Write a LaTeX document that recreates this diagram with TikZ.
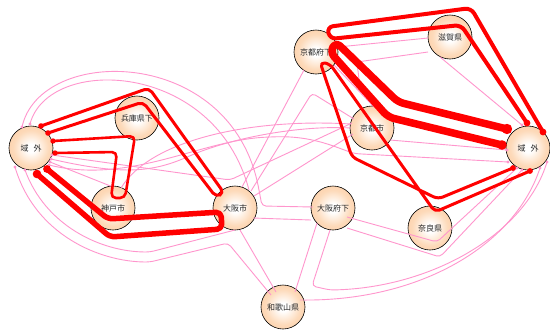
\documentclass[tikz,border=0pt]{standalone}
\usepackage{fontspec}
\newfontfamily\jp{Noto Sans CJK JP}
\usetikzlibrary{calc}
\definecolor{peachlight}{RGB}{253,218,186}
\definecolor{peachmid}{RGB}{251,198,152}
\definecolor{peachrim}{RGB}{246,176,122}
\definecolor{flowpink}{RGB}{255,150,205}
\pgfdeclareradialshading{areaball}{\pgfpoint{0bp}{0bp}}{%
  color(0bp)=(white); color(5bp)=(white); color(20bp)=(peachlight); color(38bp)=(peachmid); color(50bp)=(peachrim)}
\begin{document}
\begin{tikzpicture}[x=1pt,y=-1pt,
  area/.style={circle,draw=black,line width=0.6pt,minimum size=44pt,inner sep=0pt,
    shading=areaball,text=black!85,font=\jp\fontsize{8}{9}\selectfont},
  minor/.style={draw=flowpink,line width=0.9pt,rounded corners=4pt},
  major/.style={draw=red,rounded corners=5pt,line join=round},
  enddot/.style={fill=red},
  pinkdot/.style={fill=flowpink}]
\fill[white] (0,0) rectangle (550,330);
\useasboundingbox (0,0) rectangle (550,330);

% areas
\node[area] (outL) at (31,148) {域\hspace{5pt}外};
\node[area] (hyogo) at (137,118) {兵庫県下};
\node[area] (kobe) at (113,208) {神戸市};
\node[area] (osakaC) at (235,208) {大阪市};
\node[area] (osakaF) at (333,208) {大阪府下};
\node[area] (wakayama) at (283,307) {和歌山県};
\node[area] (kyotoF) at (316,52) {京都府下};
\node[area] (shiga) at (450,37) {滋賀県};
\node[area] (kyotoC) at (372,128) {京都市};
\node[area] (outR) at (528,148) {域\hspace{5pt}外};
\node[area] (nara) at (430,228) {奈良県};

% minor flows, west side
\draw[minor] ($(outL)+(-9,-21)$) .. controls (40,45) and (230,45) .. (259,190) -- (262,206) -- ($(osakaF)+(-20,-1)$);
\draw[minor] ($(outL)+(-1,-24)$) .. controls (48,55) and (215,60) .. ($(osakaC)+(14,-18)$);
\draw[minor] ($(outL)+(-16,19)$) .. controls (35,235) and (100,262) .. (150,262) -- (228,243) -- ($(wakayama)+(-12,-12)$);
\draw[minor] ($(outL)+(-6,22)$) .. controls (45,225) and (100,252) .. (150,252) -- ($(osakaC)+(0,22)$);
\draw[minor] ($(osakaC)+(5,22)$) -- ($(wakayama)+(-7,-15)$);
\draw[minor] ($(outL)+(21,7)$) -- (230,180) -- ($(kyotoC)+(-20,-5)$);
\draw[minor] ($(outL)+(20,11)$) .. controls (120,175) and (150,172) .. (185,158) .. controls (230,138) and (300,125) .. ($(kyotoC)+(-21,0)$);
\draw[minor] ($(outL)+(19,14)$) -- ($(kobe)+(0,-21)$);
\draw[minor] ($(kobe)+(8,-20)$) .. controls (150,140) and (250,118) .. ($(kyotoC)+(-21,-4)$);
\draw[minor] ($(outL)+(18,17)$) .. controls (130,185) and (200,140) .. (270,137) .. controls (320,135) and (345,153) .. (362,154) -- ($(outR)+(-20,14)$);

% minor flows, centre
\draw[minor] ($(osakaC)+(7,-21)$) -- ($(kyotoF)+(-12,18)$);
\draw[minor] ($(osakaC)+(16,-17)$) -- (312,93) -- ($(kyotoC)+(-18,-9)$);
\draw[minor] ($(osakaC)+(19,-12)$) -- ($(kyotoC)+(-19,6)$);
\draw[minor] ($(osakaC)+(18,10)$) -- ($(osakaF)+(-22,12)$);
\draw[minor] ($(osakaF)+(-16,15)$) -- ($(wakayama)+(12,-15)$);

% minor flows, east side
\draw[minor] ($(kyotoF)+(22,-5)$) -- ($(shiga)+(-22,1)$);
\draw[minor] ($(shiga)+(-22,15)$) -- (357,62) -- (360,88) -- ($(kyotoC)+(4,-20)$);
\draw[minor] ($(shiga)+(-10,20)$) -- ($(outR)+(-6,-23)$);
\draw[minor] ($(kyotoF)+(18,13)$) -- ($(kyotoC)+(2,-21)$);
\draw[minor] ($(kyotoC)+(18,12)$) -- ($(outR)+(-21,2)$);
\draw[minor] ($(osakaF)+(14,9)$) -- (437,242) -- ($(outR)+(-11,20)$);
\draw[minor] ($(osakaF)+(14,20)$) -- (440,257) -- ($(outR)+(-6,22)$);
\draw[minor] ($(wakayama)+(17,-7)$) .. controls (420,302) and (515,245) .. ($(outR)+(12,20)$);
\draw[minor] ($(osakaF)+(-3,22)$) -- (312,286) -- (330,290) .. controls (430,288) and (525,235) .. ($(outR)+(19,14)$);

% minor flow ends at the outer areas
\foreach \dx/\dy in {-9/-21,-1/-24,-16/19,-6/22,21/7,20/11,19/14,18/17}
  \fill[pinkdot] ($(outL)+(\dx,\dy)$) circle (1.6);
\foreach \dx/\dy in {-20/14,-6/-23,-21/2,-11/20,-6/22,12/20,19/14}
  \fill[pinkdot] ($(outR)+(\dx,\dy)$) circle (1.6);

% major flows, west side
\draw[major,line width=3pt] ($(outL)+(10,-22)$) -- (149,88) -- ($(osakaC)+(-11,-15)$)
  -- ($(osakaC)+(-19,-11)$) -- (143,102) -- ($(outL)+(17,-15)$);
\draw[major,line width=2.6pt] ($(outL)+(22,-7)$) -- (135,136) -- ($(kobe)+(12,-10)$)
  -- ($(kobe)+(-2,-10)$) -- (117,152) -- ($(outL)+(24,5)$);
\draw[major,line width=5.5pt] ($(outL)+(6,26)$) -- (110,237) -- ($(osakaC)+(-13,21)$)
  -- ($(osakaC)+(-14,4)$) -- (108,219) -- ($(outL)+(16,21)$);
\fill[enddot] ($(outL)+(10,-22)$) circle (2.8);
\fill[enddot] ($(outL)+(17,-15)$) circle (2.8);
\fill[enddot] ($(outL)+(22,-7)$) circle (2.7);
\fill[enddot] ($(outL)+(24,5)$) circle (2.7);
\fill[enddot] ($(outL)+(6,26)$) circle (4.3);
\fill[enddot] ($(outL)+(16,21)$) circle (3.9);

% major flows, east side
\draw[major,line width=4pt,rounded corners=6pt] ($(outR)+(15,-16)$) -- (471,8) -- ($(kyotoF)+(11,-25)$)
  -- ($(kyotoF)+(14,-13)$) -- (461,25) -- ($(outR)+(-1,-25)$);
\draw[major,line width=7.5pt,rounded corners=6pt] ($(outR)+(-21,-19)$) -- (398,102) -- ($(kyotoF)+(20,-10)$)
  -- ($(kyotoF)+(14,0)$) -- (388,117) -- ($(outR)+(-26,-3)$);
\draw[major,line width=3pt] ($(outR)+(-15,20)$) -- (438,199) -- (352,157) -- ($(kyotoF)+(4,10)$)
  -- ($(kyotoF)+(14,12)$) -- (435,212) -- ($(outR)+(2,23)$);
\fill[enddot] ($(outR)+(15,-16)$) circle (3.4);
\fill[enddot] ($(outR)+(-1,-25)$) circle (3.4);
\fill[enddot] ($(outR)+(-21,-19)$) circle (5.2);
\fill[enddot] ($(outR)+(-26,-3)$) circle (4.8);
\fill[enddot] ($(outR)+(-15,20)$) circle (2.9);
\fill[enddot] ($(outR)+(2,23)$) circle (2.9);
\end{tikzpicture}
\end{document}
